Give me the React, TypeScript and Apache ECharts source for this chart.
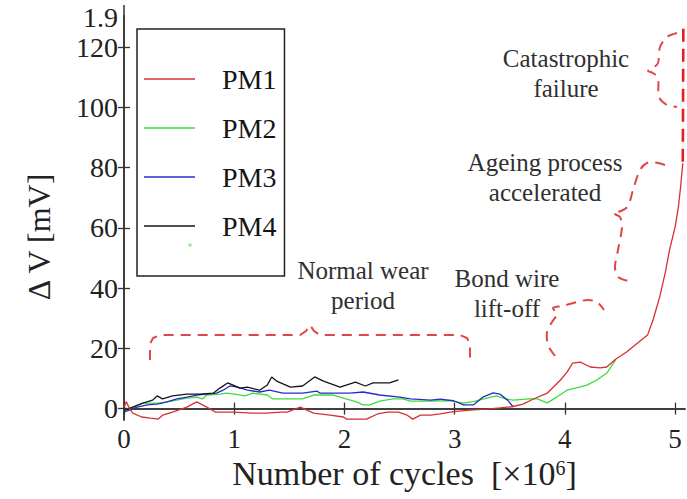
import React, { useEffect, useRef } from 'react';
import * as echarts from 'echarts';

const seriesNames = ['PM1', 'PM2', 'PM3', 'PM4'];
const seriesColors = ['#d63030', '#3ddc3d', '#2a2ac8', '#151515'];

const pm1: [number, number][] = [
  [0.0, 0.5], [0.02, 2.3], [0.05, 0], [0.08, -1.5], [0.16, -2.8], [0.24, -3.2], [0.31, -3.5],
  [0.35, -2.2], [0.44, -1.2], [0.57, 0.5], [0.66, 2.2], [0.75, 0.5], [0.83, -1.2], [0.99, -1.2],
  [1.17, -1.5], [1.3, -1.5], [1.42, -1.2], [1.48, -1.2], [1.6, 0.5], [1.72, -1.5], [1.87, -2.2],
  [1.99, -2.8], [2.02, -3.5], [2.2, -3.5], [2.3, -1.8], [2.39, -1.2], [2.49, -1.2], [2.57, -2.2],
  [2.62, -3.5], [2.69, -2.2], [2.78, -2.2], [2.87, -1.8], [2.99, -1.0], [3.14, -0.5], [3.29, -0.2],
  [3.41, 0.2], [3.52, 0.6], [3.62, 1.5], [3.71, 3.1], [3.84, 5.1], [3.96, 9.5], [4.02, 12.1],
  [4.07, 15.1], [4.14, 15.4], [4.23, 13.8], [4.32, 13.5], [4.38, 13.8], [4.46, 16.4], [4.56, 18.8],
  [4.66, 21.8], [4.75, 24.4], [4.8, 29.4], [4.86, 37], [4.91, 45], [4.95, 52.7], [5.0, 60.3],
  [5.03, 67], [5.05, 73.6], [5.07, 81.5],
];
const pm1Extension: [number, number][] = [[5.07, 82], [5.075, 126.5]];

const pm2: [number, number][] = [
  [0.01, -0.5], [0.08, 0.5], [0.17, 1.8], [0.26, 1.8], [0.33, 1.8], [0.39, 2.2], [0.48, 2.8],
  [0.57, 3.5], [0.66, 3.8], [0.71, 3.2], [0.75, 4.5], [0.87, 4.8], [0.93, 5.1], [1.0, 4.8],
  [1.1, 4.2], [1.17, 5.1], [1.3, 4.5], [1.35, 3.2], [1.42, 3.2], [1.62, 3.2], [1.72, 4.5],
  [1.9, 4.5], [1.99, 3.5], [2.11, 2.2], [2.17, 1.2], [2.23, 1.2], [2.32, 2.5], [2.44, 3.2],
  [2.53, 3.2], [2.6, 2.5], [2.78, 2.5], [2.96, 2.6], [3.08, 1.8], [3.17, 2.3], [3.29, 3.5],
  [3.38, 4.2], [3.46, 3.2], [3.53, 2.8], [3.68, 3.2], [3.75, 3.2], [3.84, 1.9], [3.93, 3.9],
  [4.02, 6.1], [4.14, 7.2], [4.2, 7.8], [4.29, 9.5], [4.38, 11.8], [4.46, 16.1],
];

const pm3: [number, number][] = [
  [0.01, -1], [0.12, 0.5], [0.21, 1.2], [0.3, 1.5], [0.39, 2.2], [0.48, 3.2], [0.57, 3.8],
  [0.66, 4.5], [0.75, 4.8], [0.84, 5.1], [0.9, 6.1], [0.96, 7.5], [1.03, 7.1], [1.12, 6.1],
  [1.23, 5.5], [1.32, 6.1], [1.44, 5.1], [1.62, 5.1], [1.75, 5.8], [1.78, 5.1], [2.05, 5.1],
  [2.17, 5.5], [2.32, 4.5], [2.5, 3.8], [2.6, 3.2], [2.78, 2.8], [2.87, 3.1], [2.99, 2.6],
  [3.08, 1.2], [3.17, 1.2], [3.26, 3.9], [3.35, 5.2], [3.41, 4.8], [3.48, 2.8], [3.53, 0.6],
];

const pm4: [number, number][] = [
  [0.01, -0.5], [0.08, 0.5], [0.17, 1.8], [0.26, 2.8], [0.3, 4.2], [0.35, 3.2], [0.44, 4.2],
  [0.57, 4.8], [0.69, 4.8], [0.81, 5.1], [0.87, 6.8], [0.94, 8.5], [0.99, 7.8], [1.05, 6.8],
  [1.12, 7.1], [1.23, 6.1], [1.3, 7.8], [1.34, 10.5], [1.39, 9.0], [1.51, 7.1], [1.62, 7.5],
  [1.73, 10.5], [1.81, 9.1], [1.96, 7.1], [2.1, 8.8], [2.19, 7.5], [2.26, 8.5], [2.41, 8.5],
  [2.49, 9.5],
];

const xTicks = [0, 1, 2, 3, 4, 5];
const yTicks = [0, 20, 40, 60, 80, 100, 120];

const annotations = [
  { text: 'Catastrophic\nfailure', x: 566, y: 73 },
  { text: 'Ageing process\naccelerated', x: 545, y: 177 },
  { text: 'Bond wire\nlift-off', x: 507, y: 293 },
  { text: 'Normal wear\nperiod', x: 363, y: 285 },
];

const braces: { points: number[][]; smooth: number }[] = [
  {
    points: [[150, 360], [150, 344], [153, 338], [160, 335], [300, 335], [306, 331], [310, 325],
      [314, 331], [320, 335], [460, 335], [467, 338], [470, 344], [470, 360]],
    smooth: 0,
  },
  {
    points: [[555, 356], [548, 345], [547, 332], [552, 322], [557, 314], [553, 308], [563, 306],
      [577, 302], [588, 300], [597, 302], [604, 310]],
    smooth: 0.3,
  },
  {
    points: [[665, 165], [655, 162.5], [647, 163], [640, 170], [633, 190], [628, 206], [621, 211],
      [613, 213], [620, 217], [622, 227], [618, 250], [615, 267], [618, 277], [632, 282]],
    smooth: 0.3,
  },
  {
    points: [[677, 33], [667, 37], [660, 47], [658, 63], [653, 68], [648, 71], [653, 73], [658, 78],
      [659, 97], [667, 105], [677, 107]],
    smooth: 0.3,
  },
];

const FONT = "'Liberation Serif', 'Times New Roman', Times, serif";
const AXIS_COLOR = '#333';
const BRACE_COLOR = '#e04646';

export default function App() {
  const ref = useRef<HTMLDivElement>(null);

  useEffect(() => {
    if (!ref.current) return;
    const chart = echarts.init(ref.current, null, { renderer: 'svg' });
    const lineAxis = { show: true, lineStyle: { color: AXIS_COLOR, width: 1.5 } };
    const tickStyle = { color: AXIS_COLOR, width: 1.3 };
    const series: any[] = [pm1, pm2, pm3, pm4].map((d, i) => ({
      name: seriesNames[i],
      type: 'line',
      data: d,
      symbol: 'none',
      z: i === 0 ? 5 : 3,
      lineStyle: { color: seriesColors[i], width: 1.3 },
      itemStyle: { color: seriesColors[i] },
    }));
    series.push({
      name: 'PM1 trend',
      type: 'line',
      data: pm1Extension,
      symbol: 'none',
      z: 5,
      lineStyle: { color: '#e02020', width: 2.6, type: [13, 7] },
    });

    chart.setOption({
      animation: false,
      backgroundColor: '#ffffff',
      grid: { left: 124, right: 2, top: 16, bottom: 79, containLabel: false },
      legend: {
        data: seriesNames,
        orient: 'vertical',
        left: 137,
        top: 29,
        padding: [36, 8, 36, 7],
        itemGap: 21,
        itemWidth: 51,
        itemHeight: 1.5,
        icon: 'rect',
        borderColor: '#222',
        borderWidth: 1.5,
        textStyle: {
          fontFamily: FONT,
          fontSize: 28,
          lineHeight: 26,
          color: '#151515',
          padding: [0, 0, 0, 22],
        },
      },
      xAxis: [
        {
          type: 'value',
          min: 0,
          max: 5.09,
          position: 'bottom',
          axisLine: lineAxis,
          axisTick: { show: true, inside: true, length: 6, customValues: xTicks, lineStyle: tickStyle },
          axisLabel: {
            customValues: xTicks,
            fontFamily: FONT,
            fontSize: 27,
            lineHeight: 24,
            color: '#222',
            margin: 7,
          },
          splitLine: { show: false },
          name: '{a|Number of cycles  [×10}{s|6}{a|]}',
          nameLocation: 'middle',
          nameGap: 38,
          nameMoveOverlap: false,
          nameTextStyle: {
            lineHeight: 30,
            rich: {
              a: { fontFamily: FONT, fontSize: 34, color: '#222', lineHeight: 30 },
              s: { fontFamily: FONT, fontSize: 20, color: '#222', verticalAlign: 'top', lineHeight: 26 },
            },
          },
        },
        {
          type: 'value',
          min: 0,
          max: 5.09,
          position: 'top',
          axisLine: lineAxis,
          axisTick: { show: true, inside: true, length: 6, customValues: xTicks, lineStyle: tickStyle },
          axisLabel: { show: false },
          splitLine: { show: false },
        },
      ],
      yAxis: [
        {
          type: 'value',
          min: -3.8,
          max: 130.4,
          position: 'left',
          axisLine: lineAxis,
          axisTick: { show: true, inside: true, length: 6, customValues: yTicks, lineStyle: tickStyle },
          axisLabel: {
            customValues: yTicks,
            fontFamily: FONT,
            fontSize: 28,
            color: '#222',
            margin: 6,
          },
          splitLine: { show: false },
          name: 'Δ V [mV]',
          nameLocation: 'middle',
          nameRotate: 90,
          nameGap: 69,
          nameMoveOverlap: false,
          nameTextStyle: { fontFamily: FONT, fontSize: 32, color: '#222', padding: [0, 38, 0, 0] },
        },
        {
          type: 'value',
          min: -3.8,
          max: 130.4,
          position: 'right',
          axisLine: lineAxis,
          axisTick: { show: true, inside: true, length: 6, customValues: yTicks, lineStyle: tickStyle },
          axisLabel: { show: false },
          splitLine: { show: false },
        },
      ],
      series,
      graphic: [
        {
          type: 'line',
          shape: { x1: 124, y1: 5, x2: 124, y2: 16 },
          style: { stroke: AXIS_COLOR, lineWidth: 1.5 },
        },
        {
          type: 'text',
          x: 118,
          y: 17,
          style: { text: '1.9', fontFamily: FONT, fontSize: 28, fill: '#222', align: 'right', verticalAlign: 'middle' },
        },
        {
          type: 'circle',
          shape: { cx: 190, cy: 245, r: 1.8 },
          style: { fill: '#9be89b' },
        },
        ...annotations.map((a) => ({
          type: 'text',
          x: a.x,
          y: a.y,
          style: {
            text: a.text,
            fontFamily: FONT,
            fontSize: 25,
            lineHeight: 30,
            fill: '#303030',
            align: 'center',
            verticalAlign: 'middle',
          },
        })),
        ...braces.map((b) => ({
          type: 'polyline',
          shape: { points: b.points, smooth: b.smooth },
          style: { stroke: BRACE_COLOR, lineWidth: 2, fill: 'none', lineDash: [10, 7] },
          z: 10,
        })),
      ],
    });
    return () => chart.dispose();
  }, []);

  return (
    <div
      ref={ref}
      style={{ position: 'fixed', left: 0, top: 0, width: 687, height: 499 }}
    />
  );
}
